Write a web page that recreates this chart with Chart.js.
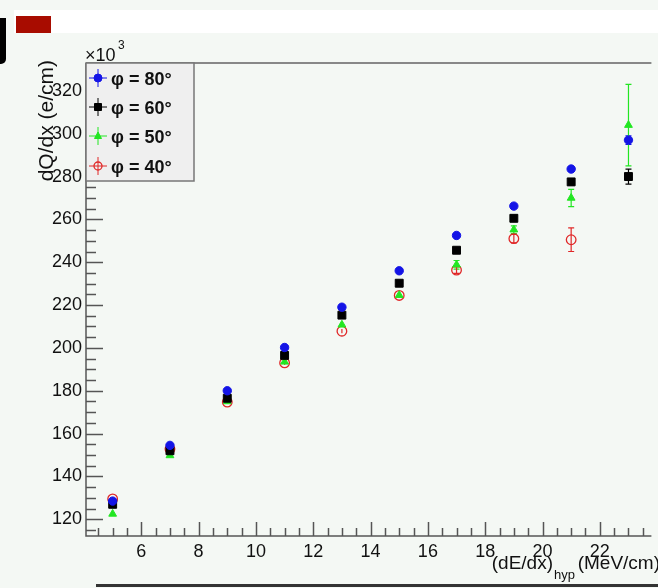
<!DOCTYPE html>
<html>
<head>
<meta charset="utf-8">
<script src="https://cdn.jsdelivr.net/npm/chart.js@4.4.1/dist/chart.umd.min.js"></script>
<style>
  html, body { margin: 0; padding: 0; background: #f4f8f4; }
  #wrap { position: relative; width: 658px; height: 588px; overflow: hidden; }
  .deco { position: absolute; }
  canvas { position: absolute; left: 0; top: 0; }
</style>
</head>
<body>
<div id="wrap">
  <div class="deco" style="left:14px;top:10px;width:644px;height:23px;background:#ffffff;"></div>
  <div class="deco" style="left:16px;top:16px;width:35px;height:17px;background:#a80c00;"></div>
  <div class="deco" style="left:0;top:18px;width:6px;height:46px;background:#000;border-bottom-right-radius:5px;"></div>
  <div class="deco" style="left:96px;top:584px;width:562px;height:3px;background:#333;"></div>
  <canvas id="graph" width="658" height="588"></canvas>
</div>
<script>
const xVals = [5, 7, 9, 11, 13, 15, 17, 19, 21, 23];

const phi80 = [128.5, 154.5, 180, 200.2, 219, 236, 252.5, 266.2, 283.5, 297];
const phi80Err = [0.5, 0.5, 0.6, 0.6, 0.6, 0.6, 0.7, 0.8, 1, 2];

const phi60 = [127, 152, 176.5, 196.5, 215.3, 230.2, 245.6, 260.5, 277.5, 280];
const phi60Err = [0.6, 0.6, 0.6, 0.6, 0.7, 0.8, 1, 1.2, 1.5, 3.5];

const phi50 = [122.5, 149.8, 175, 193.5, 210.8, 224.6, 238.8, 255.2, 270, 304];
const phi50Err = [0.6, 0.7, 0.8, 0.8, 1, 1.2, 2, 1.8, 4, 19];

const phi40 = [129.5, 152.8, 174.7, 193, 207.8, 224.5, 236.3, 251, 250.5, null];
const phi40Err = [0.6, 0.7, 0.8, 0.9, 1, 1.2, 1.5, 2, 5.5, null];

const xTicks = [6, 8, 10, 12, 14, 16, 18, 20, 22];
const yTicks = [120, 140, 160, 180, 200, 220, 240, 260, 280, 300, 320];

const labels = ['\u03c6 = 80\u00b0', '\u03c6 = 60\u00b0', '\u03c6 = 50\u00b0', '\u03c6 = 40\u00b0'];

const FONT = "'Liberation Sans', Arial, sans-serif";

function pts(ys, errs) {
  const out = [];
  for (let i = 0; i < xVals.length; i++) {
    if (ys[i] == null) continue;
    out.push({ x: xVals[i], y: ys[i], err: errs[i] });
  }
  return out;
}

const ctx = document.getElementById('graph').getContext('2d');

// error bars, axes with inward ticks, titles and the legend box (ROOT look)
const rootStyle = {
  id: 'rootStyle',
  beforeDatasetsDraw(chart) {
    const c = chart.ctx, xs = chart.scales.x, ys = chart.scales.y;
    c.save();
    chart.data.datasets.forEach(ds => {
      c.strokeStyle = ds.borderColor;
      c.lineWidth = 1.2;
      ds.data.forEach(p => {
        if (!p.err) return;
        const px = xs.getPixelForValue(p.x);
        const top = ys.getPixelForValue(p.y + p.err);
        const bot = ys.getPixelForValue(p.y - p.err);
        c.beginPath();
        c.moveTo(px, top); c.lineTo(px, bot);
        if (bot - top > 6) {
          c.moveTo(px - 3, top); c.lineTo(px + 3, top);
          c.moveTo(px - 3, bot); c.lineTo(px + 3, bot);
        }
        c.stroke();
      });
    });
    c.restore();
  },
  afterDraw(chart) {
    const c = chart.ctx, a = chart.chartArea;
    const xs = chart.scales.x, ys = chart.scales.y;
    c.save();
    // frame
    c.strokeStyle = '#888';
    c.lineWidth = 2;
    c.beginPath();
    c.moveTo(a.left, a.top); c.lineTo(a.right, a.top);
    c.stroke();
    c.strokeStyle = '#555';
    c.lineWidth = 1.5;
    c.beginPath();
    c.moveTo(a.left, a.top); c.lineTo(a.left, a.bottom); c.lineTo(a.right, a.bottom);
    c.stroke();

    // y ticks
    c.beginPath();
    for (let v = 115; v <= 330; v += 5) {
      const py = Math.round(ys.getPixelForValue(v)) + 0.5;
      const len = yTicks.includes(v) ? 17 : 10;
      c.moveTo(a.left, py); c.lineTo(a.left + len, py);
    }
    // x ticks
    for (let v = 4.5; v <= 23.5; v += 0.5) {
      const px = Math.round(xs.getPixelForValue(v)) + 0.5;
      const len = xTicks.includes(v) ? 14 : 8;
      c.moveTo(px, a.bottom); c.lineTo(px, a.bottom - len);
    }
    c.stroke();

    // axis titles
    c.fillStyle = '#111';
    c.textBaseline = 'alphabetic';
    c.font = '18px ' + FONT;
    c.textAlign = 'left';
    c.fillText('\u00d710', 85, 61);
    c.font = '12px ' + FONT;
    c.fillText('3', 118, 49);

    c.save();
    c.translate(53, 60);
    c.rotate(-Math.PI / 2);
    c.textAlign = 'right';
    c.font = '21px ' + FONT;
    c.fillText('dQ/dx (e/cm)', 0, 0);
    c.restore();

    c.textAlign = 'right';
    c.font = '19px ' + FONT;
    c.fillText('(MeV/cm)', 660, 569);
    c.font = '13px ' + FONT;
    c.fillText('hyp', 575, 579);
    c.font = '19px ' + FONT;
    c.fillText('(dE/dx)', 553, 569);

    // legend
    const lx = a.left, ly = a.top, lw = 108, lh = 118;
    c.fillStyle = '#efefef';
    c.fillRect(lx, ly, lw, lh);
    c.strokeStyle = '#777';
    c.lineWidth = 1.5;
    c.strokeRect(lx, ly, lw, lh);
    const rows = [78, 107, 136, 166];
    chart.data.datasets.forEach((ds, i) => {
      const cx = 98, cy = rows[i];
      c.strokeStyle = ds.borderColor;
      c.lineWidth = 1;
      c.beginPath();
      c.moveTo(cx - 9, cy); c.lineTo(cx + 9, cy);
      c.moveTo(cx, cy - 9); c.lineTo(cx, cy + 9);
      c.stroke();
      c.fillStyle = ds.backgroundColor;
      c.lineWidth = ds.pointBorderWidth || 1;
      c.beginPath();
      if (ds.pointStyle === 'rect') {
        c.rect(cx - 3.5, cy - 3.5, 7, 7);
      } else if (ds.pointStyle === 'triangle') {
        c.moveTo(cx, cy - 4); c.lineTo(cx + 3.5, cy + 2.5); c.lineTo(cx - 3.5, cy + 2.5); c.closePath();
      } else {
        c.arc(cx, cy, 4, 0, Math.PI * 2);
      }
      c.fill();
      c.stroke();
      c.fillStyle = '#111';
      c.textAlign = 'left';
      c.font = 'bold 18px ' + FONT;
      c.fillText(labels[i], 111, cy + 7);
    });
    c.restore();
  }
};

const chart = new Chart(ctx, {
  type: 'scatter',
  data: {
    datasets: [
      { label: labels[0], data: pts(phi80, phi80Err), pointStyle: 'circle', pointRadius: 4.2,
        backgroundColor: '#1414e6', borderColor: '#1414e6', pointBorderWidth: 1 },
      { label: labels[1], data: pts(phi60, phi60Err), pointStyle: 'rect', pointRadius: 5.6,
        backgroundColor: '#000000', borderColor: '#000000', pointBorderWidth: 1 },
      { label: labels[2], data: pts(phi50, phi50Err), pointStyle: 'triangle', pointRadius: 4.5,
        backgroundColor: '#22e622', borderColor: '#22e622', pointBorderWidth: 1 },
      { label: labels[3], data: pts(phi40, phi40Err), pointStyle: 'circle', pointRadius: 4.8,
        backgroundColor: 'rgba(0,0,0,0)', borderColor: '#e02828', pointBorderWidth: 1.3 }
    ]
  },
  options: {
    responsive: false,
    animation: false,
    layout: { padding: { top: 63, left: 0, right: 0, bottom: 0 } },
    plugins: { legend: { display: false }, tooltip: { enabled: false } },
    scales: {
      x: {
        type: 'linear', min: 4.07, max: 23.8,
        afterFit: s => { s.height = 52; },
        afterBuildTicks: s => { s.ticks = xTicks.map(v => ({ value: v })); },
        grid: { display: false, drawTicks: false },
        border: { display: false },
        ticks: { font: { family: FONT, size: 18 }, color: '#111', padding: 5, maxRotation: 0, autoSkip: false }
      },
      y: {
        type: 'linear', min: 112.2, max: 333,
        afterFit: s => { s.width = 86; },
        afterBuildTicks: s => { s.ticks = yTicks.map(v => ({ value: v })); },
        grid: { display: false, drawTicks: false },
        border: { display: false },
        ticks: { font: { family: FONT, size: 18 }, color: '#111', padding: 4, autoSkip: false }
      }
    }
  },
  plugins: [rootStyle]
});
</script>
</body>
</html>
